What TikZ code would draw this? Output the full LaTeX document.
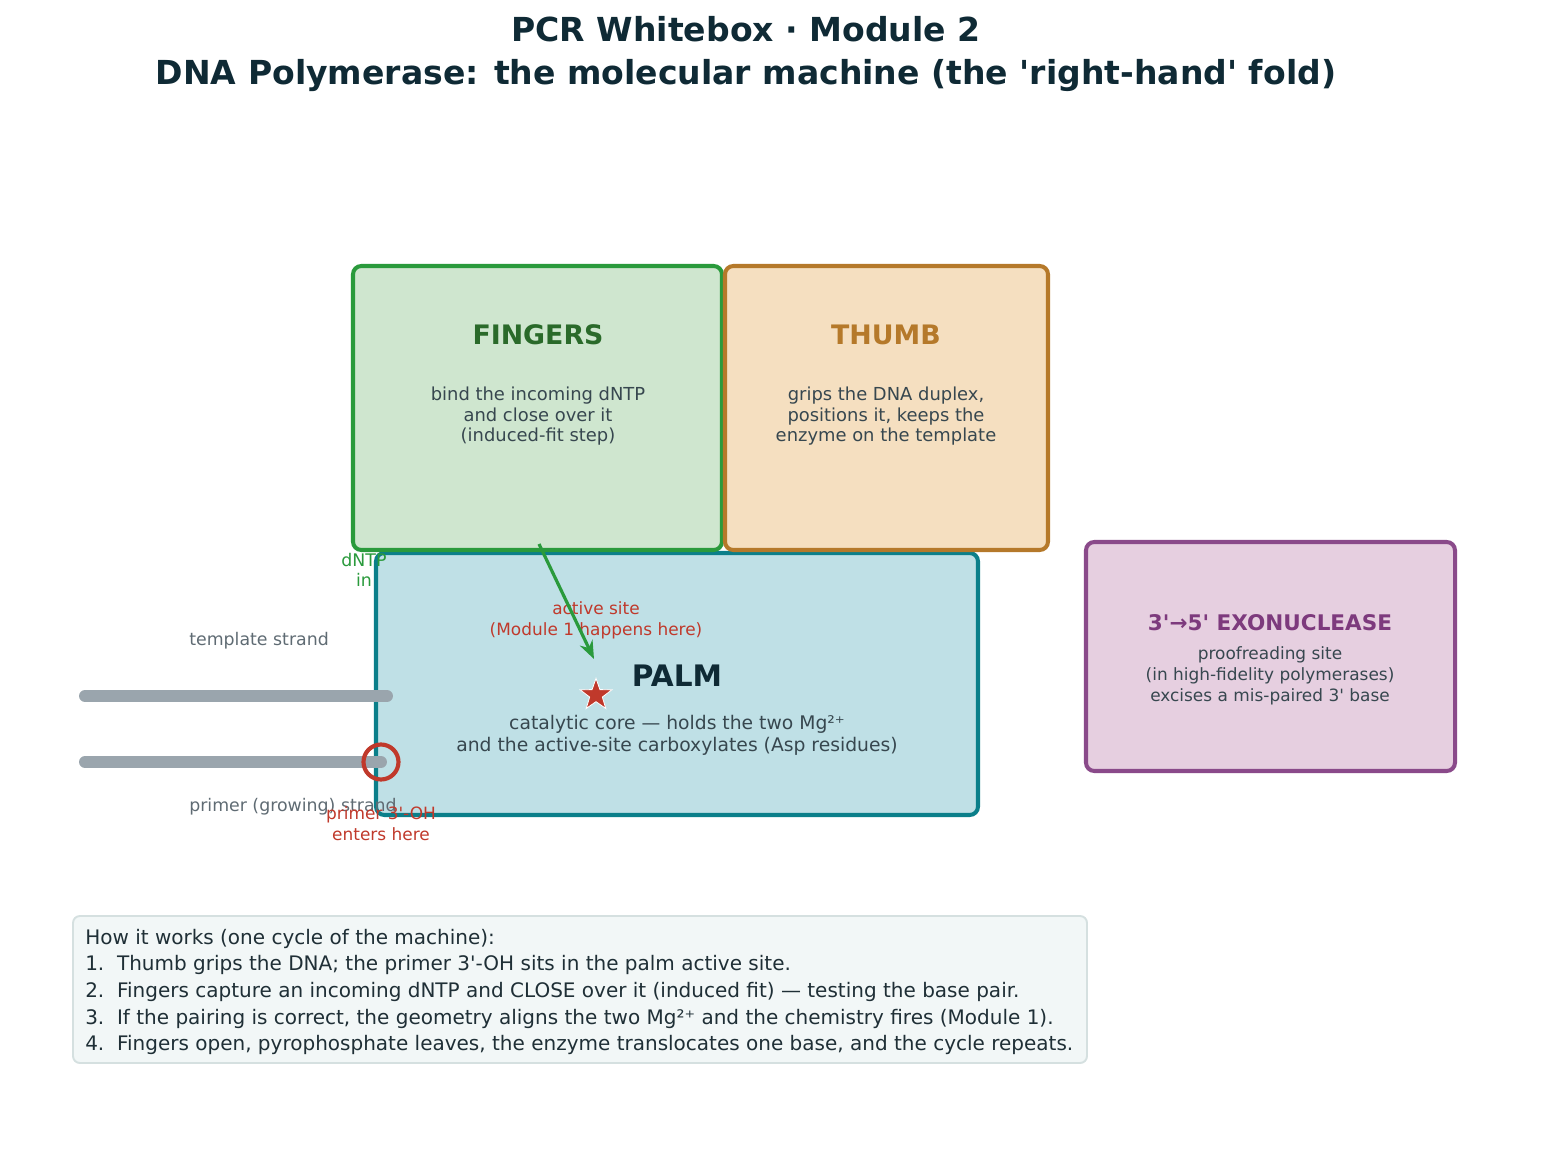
\documentclass[tikz,border=0pt]{standalone}
\usepackage{fontspec}
\setmainfont{DejaVu Sans}[Ligatures=TeXOff]
\usetikzlibrary{positioning, arrows.meta, shapes.geometric}

\definecolor{titleink}{HTML}{0F2A35}
\definecolor{bodyink}{HTML}{37474F}
\definecolor{fingfill}{HTML}{CFE6CF}
\definecolor{fingline}{HTML}{2A9A3C}
\definecolor{fingink}{HTML}{2A6A2A}
\definecolor{thumbfill}{HTML}{F5DFC0}
\definecolor{thumbline}{HTML}{B5792A}
\definecolor{palmfill}{HTML}{BFE0E6}
\definecolor{palmline}{HTML}{0B7F8A}
\definecolor{exofill}{HTML}{E6CFE0}
\definecolor{exoline}{HTML}{8A4A8A}
\definecolor{exoink}{HTML}{7D3A7D}
\definecolor{siteink}{HTML}{C0392B}
\definecolor{strandgray}{HTML}{9AA5AD}
\definecolor{labelgray}{HTML}{5F6B73}
\definecolor{notefill}{HTML}{F2F7F7}
\definecolor{noteline}{HTML}{D5E0E0}
\definecolor{noteink}{HTML}{1F2F36}

\begin{document}
\begin{tikzpicture}[
        x=0.72pt, y=-0.72pt,
        >=Stealth,
        part/.style={
          draw,
          rounded corners=6pt,
          line width=2.9pt,
          inner sep=0pt
        },
        parttitle/.style={font=\bfseries\fontsize{19.3}{23}\selectfont},
        parttext/.style={align=center, text=bodyink,
          font=\fontsize{12.9}{14.8}\selectfont},
        sitelabel/.style={align=center, text=siteink,
          font=\fontsize{12.2}{15.1}\selectfont},
        strandlabel/.style={anchor=west, inner sep=0pt, text=labelgray,
          font=\fontsize{12.5}{15}\selectfont},
        strand/.style={line width=8.6pt, line cap=round, draw=strandgray}
      ]
      \useasboundingbox (0,0) rectangle (1541,1152);

      % Titel
      \node[align=center, text=titleink,
        font=\bfseries\fontsize{23.8}{31}\selectfont] (title) at (746,54)
        {PCR Whitebox · Module 2\\DNA Polymerase: the molecular machine (the 'right-hand' fold)};

      % Domaenen
      \node[part, fill=palmfill, draw=palmline,
        minimum width=602*0.72pt, minimum height=262*0.72pt] (palm) at (677,684) {};
      \node[part, fill=fingfill, draw=fingline,
        minimum width=369*0.72pt, minimum height=284*0.72pt] (fingers) at (537.5,408) {};
      \node[part, fill=thumbfill, draw=thumbline,
        minimum width=323*0.72pt, minimum height=284*0.72pt] (thumb) at (886.5,408) {};
      \node[part, fill=exofill, draw=exoline,
        minimum width=369*0.72pt, minimum height=229*0.72pt] (exo) at (1270.5,656.5) {};

      % Beschriftung
      \node[parttitle, text=fingink] (fingerstitle) at (538,335) {FINGERS};
      \node[parttext] (fingerstext) at (538,416.5)
        {bind the incoming dNTP\\and close over it\\(induced-fit step)};
      \node[parttitle, text=thumbline] (thumbtitle) at (886,335) {THUMB};
      \node[parttext] (thumbtext) at (886,416.5)
        {grips the DNA duplex,\\positions it, keeps the\\enzyme on the template};
      \node[text=titleink, font=\bfseries\fontsize{21.3}{25}\selectfont]
        (palmtitle) at (677,676) {PALM};
      \node[align=center, text=bodyink, font=\fontsize{13.5}{15.8}\selectfont]
        (palmtext) at (677,735)
        {catalytic core — holds the two Mg²⁺\\and the active-site carboxylates (Asp residues)};
      \node[text=exoink, font=\bfseries\fontsize{15.5}{18}\selectfont]
        (exotitle) at (1270,623) {3'→5' EXONUCLEASE};
      \node[align=center, text=bodyink, font=\fontsize{12.2}{15.1}\selectfont]
        (exotext) at (1270,676)
        {proofreading site\\(in high-fidelity polymerases)\\excises a mis-paired 3' base};

      % aktives Zentrum
      \node[sitelabel] (sitelabel) at (596,620) {active site\\(Module 1 happens here)};
      \node[star, star points=5, star point ratio=2.5, minimum size=24pt,
        inner sep=0pt, fill=siteink, draw=white, line width=0.6pt] (site) at (596,695) {};
      \node[align=center, text=fingline, font=\fontsize{12.5}{14.4}\selectfont]
        (dntplabel) at (364,570) {dNTP\\in};
      \coordinate (dntpstart) at (539,544);
      \coordinate (dntpend) at (594,659);
      \draw[-{Stealth[length=13pt, width=10pt]}, draw=fingline, line width=2.3pt]
        (dntpstart) -- (dntpend);

      % DNA
      \coordinate (tempL) at (85,696);
      \coordinate (tempR) at (387,696);
      \coordinate (primL) at (85,762);
      \coordinate (primR) at (381,762);
      \draw[strand] (tempL) -- (tempR);
      \draw[strand] (primL) -- (primR);
      \node[circle, draw=siteink, line width=3pt, minimum size=35*0.72pt,
        inner sep=0pt] (primerend) at (primR) {};
      \node[strandlabel] (templabel) at (189,641) {template strand};
      \node[strandlabel] (primlabel) at (189,807) {primer (growing) strand};
      \node[sitelabel, font=\fontsize{12.2}{15}\selectfont] (ohlabel) at (381,824)
        {primer 3'-OH\\enters here};

      % Ablauf
      \node[draw=noteline, fill=notefill, rounded corners=5pt, line width=1.4pt,
        minimum width=1014*0.72pt, minimum height=147*0.72pt] (note) at (580,989.5) {};
      \node[anchor=west, align=left, text=noteink, inner sep=0pt,
        font=\fontsize{14.4}{19.1}\selectfont] (notetext) at (85,992)
        {How it works (one cycle of the machine):\\
         1.\ \ Thumb grips the DNA; the primer 3'-OH sits in the palm active site.\\
         2.\ \ Fingers capture an incoming dNTP and CLOSE over it (induced fit) — testing the base pair.\\
         3.\ \ If the pairing is correct, the geometry aligns the two Mg²⁺ and the chemistry fires (Module 1).\\
         4.\ \ Fingers open, pyrophosphate leaves, the enzyme translocates one base, and the cycle repeats.};

    \end{tikzpicture}
\end{document}
